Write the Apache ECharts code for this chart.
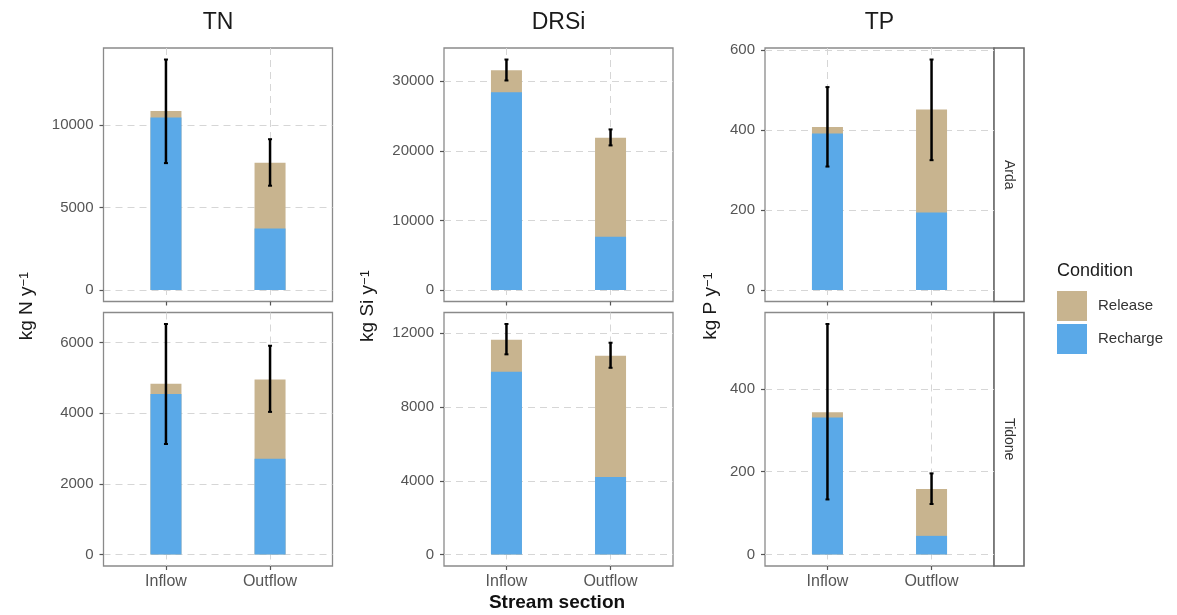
<!DOCTYPE html>
<html>
<head>
<meta charset="utf-8">
<script src="https://cdn.jsdelivr.net/npm/echarts@6/dist/echarts.min.js"></script>
<style>
  html, body { margin: 0; padding: 0; background: #ffffff; }
  #chart { width: 1177px; height: 615px; }
</style>
</head>
<body>
<div id="chart"></div>
<script>
// ---- data -------------------------------------------------------------
const sections = ['Inflow', 'Outflow'];
const nutrients = ['TN', 'DRSi', 'TP'];
const streams = ['Arda', 'Tidone'];
const unitLabels = ['kg N y', 'kg Si y', 'kg P y'];

// loads per stream section [Inflow, Outflow], kg y^-1
const rechargeTN_Arda = [10450, 3725];
const releaseTN_Arda = [400, 3985];
const rechargeTN_Tidone = [4550, 2710];
const releaseTN_Tidone = [290, 2250];

const rechargeDRSi_Arda = [28420, 7660];
const releaseDRSi_Arda = [3160, 14210];
const rechargeDRSi_Tidone = [9920, 4200];
const releaseDRSi_Tidone = [1730, 6580];

const rechargeTP_Arda = [392, 194];
const releaseTP_Arda = [16, 258];
const rechargeTP_Tidone = [331, 45];
const releaseTP_Tidone = [13, 113];

// error bars [lower, upper] per stream section
const errTN_Arda = [[7690, 13970], [6320, 9140]];
const errTN_Tidone = [[3130, 6530], [4040, 5915]];
const errDRSi_Arda = [[30100, 33110], [20770, 23070]];
const errDRSi_Tidone = [[10860, 12505], [10130, 11490]];
const errTP_Arda = [[309, 508], [325, 577]];
const errTP_Tidone = [[133, 557], [122, 196]];

// y tick labels per panel
const ticksTN_Arda = [0, 5000, 10000];
const ticksTN_Tidone = [0, 2000, 4000, 6000];
const ticksDRSi_Arda = [0, 10000, 20000, 30000];
const ticksDRSi_Tidone = [0, 4000, 8000, 12000];
const ticksTP_Arda = [0, 200, 400, 600];
const ticksTP_Tidone = [0, 200, 400];

// ---- panel assembly ---------------------------------------------------
const panels = [
  { col: 0, row: 0, recharge: rechargeTN_Arda, release: releaseTN_Arda, err: errTN_Arda, ticks: ticksTN_Arda },
  { col: 0, row: 1, recharge: rechargeTN_Tidone, release: releaseTN_Tidone, err: errTN_Tidone, ticks: ticksTN_Tidone },
  { col: 1, row: 0, recharge: rechargeDRSi_Arda, release: releaseDRSi_Arda, err: errDRSi_Arda, ticks: ticksDRSi_Arda },
  { col: 1, row: 1, recharge: rechargeDRSi_Tidone, release: releaseDRSi_Tidone, err: errDRSi_Tidone, ticks: ticksDRSi_Tidone },
  { col: 2, row: 0, recharge: rechargeTP_Arda, release: releaseTP_Arda, err: errTP_Arda, ticks: ticksTP_Arda },
  { col: 2, row: 1, recharge: rechargeTP_Tidone, release: releaseTP_Tidone, err: errTP_Tidone, ticks: ticksTP_Tidone }
];

const COLOR_RELEASE = '#c8b48f';
const COLOR_RECHARGE = '#5aa9e8';
const GRID_LINE = '#d6d6d6';
const TEXT_GREY = '#555555';
const FONT = 'Liberation Sans, Arial, sans-serif';

const colLeft = [103.5, 444, 765];
const panelW = 229;
const rowTop = [48, 312.5];
const panelH = 253.5;
const xPos = [1, 2];

const grids = [], xAxes = [], yAxes = [], series = [];

function renderErrorBar(params, api) {
  const x = api.value(0);
  const lo = api.coord([x, api.value(1)]);
  const hi = api.coord([x, api.value(2)]);
  const cap = 2;
  return {
    type: 'group',
    children: [
      { type: 'line', shape: { x1: lo[0], y1: lo[1], x2: hi[0], y2: hi[1] }, style: { stroke: '#000', lineWidth: 2.5 } },
      { type: 'line', shape: { x1: lo[0] - cap, y1: lo[1], x2: lo[0] + cap, y2: lo[1] }, style: { stroke: '#000', lineWidth: 2 } },
      { type: 'line', shape: { x1: hi[0] - cap, y1: hi[1], x2: hi[0] + cap, y2: hi[1] }, style: { stroke: '#000', lineWidth: 2 } }
    ]
  };
}

panels.forEach((p, i) => {
  grids.push({
    left: colLeft[p.col], top: rowTop[p.row], width: panelW, height: panelH,
    show: true, borderColor: '#8a8a8a', borderWidth: 1.3, backgroundColor: '#ffffff'
  });

  // stacked height of each bar (Recharge + Release)
  const totals = p.recharge.map((v, k) => v + p.release[k]);
  // 5% expansion around [0, highest mark]
  const top = Math.max(...totals, ...p.err.map(e => e[1]));
  const pad = top * 0.05;

  xAxes.push({
    gridIndex: i, type: 'value', min: 0.4, max: 2.6,
    axisLine: { show: false, onZero: false },
    axisTick: { show: true, customValues: xPos, length: 4, lineStyle: { color: '#555', width: 1.2 } },
    axisLabel: {
      show: p.row === 1, customValues: xPos, margin: 8,
      formatter: v => sections[Math.round(v) - 1],
      color: TEXT_GREY, fontSize: 16, fontFamily: FONT
    },
    splitLine: { show: true, lineStyle: { color: GRID_LINE, type: [7, 5], width: 1 } }
  });

  yAxes.push({
    gridIndex: i, type: 'value', min: -pad, max: top + pad,
    axisLine: { show: false },
    axisTick: { show: true, customValues: p.ticks, length: 4, lineStyle: { color: '#555', width: 1.2 } },
    axisLabel: {
      customValues: p.ticks, margin: 10,
      formatter: v => String(Math.round(v)),
      color: TEXT_GREY, fontSize: 15, fontFamily: FONT
    },
    splitLine: { show: true, lineStyle: { color: GRID_LINE, type: [7, 5], width: 1 } }
  });

  // Release segment: full column up to the stacked total, with Recharge drawn over its lower part
  series.push({
    name: 'Release', type: 'bar', xAxisIndex: i, yAxisIndex: i,
    barWidth: 31, barGap: '-100%', itemStyle: { color: COLOR_RELEASE }, silent: true,
    data: xPos.map((x, k) => [x, totals[k]])
  });
  series.push({
    name: 'Recharge', type: 'bar', xAxisIndex: i, yAxisIndex: i,
    barWidth: 31, barGap: '-100%', itemStyle: { color: COLOR_RECHARGE }, silent: true,
    data: xPos.map((x, k) => [x, p.recharge[k]])
  });
  series.push({
    name: 'sd', type: 'custom', xAxisIndex: i, yAxisIndex: i, silent: true, z: 10,
    renderItem: renderErrorBar,
    encode: { x: 0, y: [1, 2] },
    data: xPos.map((x, k) => [x, p.err[k][0], p.err[k][1]])
  });
});

// ---- free text: facet titles, axis titles, strips, legend title --------
const graphics = [];

const colCenters = colLeft.map(l => l + panelW / 2);
nutrients.forEach((n, c) => {
  graphics.push({
    type: 'text', x: colCenters[c], y: 23,
    style: { text: n, font: '23px ' + FONT, fill: '#1a1a1a', textAlign: 'center', textVerticalAlign: 'middle' }
  });
});

const yLabelX = [27, 368, 711];
unitLabels.forEach((u, c) => {
  graphics.push({
    type: 'text', x: yLabelX[c], y: 306, rotation: Math.PI / 2,
    style: {
      text: '{m|' + u + '}{s|\u22121}',
      rich: {
        m: { fontSize: 19, fontFamily: FONT, fill: '#1a1a1a', verticalAlign: 'bottom' },
        s: { fontSize: 13, fontFamily: FONT, fill: '#1a1a1a', verticalAlign: 'top' }
      },
      textAlign: 'center', textVerticalAlign: 'middle'
    }
  });
});

graphics.push({
  type: 'text', x: 557, y: 603,
  style: { text: 'Stream section', font: 'bold 19px ' + FONT, fill: '#111111', textAlign: 'center', textVerticalAlign: 'middle' }
});

const stripLeft = colLeft[2] + panelW;
streams.forEach((s, r) => {
  graphics.push({
    type: 'rect', shape: { x: stripLeft, y: rowTop[r], width: 30, height: panelH },
    style: { fill: '#ffffff', stroke: '#6a6a6a', lineWidth: 1.6 }
  });
  graphics.push({
    type: 'text', x: stripLeft + 15, y: rowTop[r] + panelH / 2, rotation: -Math.PI / 2,
    style: { text: s, font: '14px ' + FONT, fill: '#333333', textAlign: 'center', textVerticalAlign: 'middle' }
  });
});

graphics.push({
  type: 'text', x: 1057, y: 271,
  style: { text: 'Condition', font: '18px ' + FONT, fill: '#1a1a1a', textAlign: 'left', textVerticalAlign: 'middle' }
});

const chart = echarts.init(document.getElementById('chart'), null, { renderer: 'canvas' });
chart.setOption({
  animation: false,
  backgroundColor: '#ffffff',
  grid: grids,
  xAxis: xAxes,
  yAxis: yAxes,
  series: series,
  legend: {
    data: ['Release', 'Recharge'],
    orient: 'vertical', left: 1057, top: 291, padding: 0,
    itemWidth: 30, itemHeight: 30, itemGap: 3, icon: 'rect',
    selectedMode: false,
    textStyle: { fontSize: 15, color: '#333333', fontFamily: FONT, padding: [0, 0, 0, 6] }
  },
  graphic: graphics
});
</script>
</body>
</html>
